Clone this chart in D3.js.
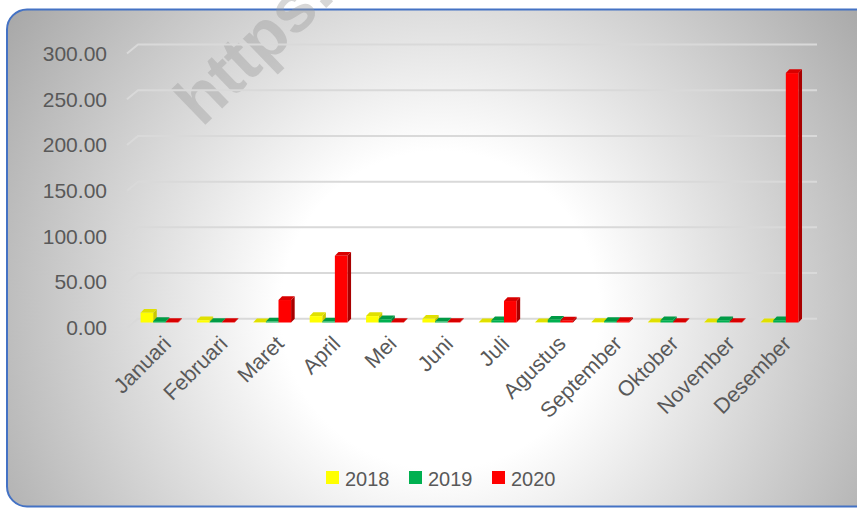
<!DOCTYPE html>
<html>
<head>
<meta charset="utf-8">
<script src="https://cdn.jsdelivr.net/npm/d3@7"></script>
<style>
  html, body { margin: 0; padding: 0; background: #ffffff; }
  svg { display: block; }
  text { font-family: "Liberation Sans", Arial, sans-serif; }
</style>
</head>
<body>
<svg id="chart" width="857" height="509"></svg>
<script>
// ---- data ----
const months = ["Januari", "Februari", "Maret", "April", "Mei", "Juni", "Juli",
                "Agustus", "September", "Oktober", "November", "Desember"];
const seriesNames = ["2018", "2019", "2020"];
const values2018 = [10.7, 2.5, 0.3, 7, 7, 4, 0.3, 0.3, 0.5, 0.3, 0.3, 0.3];
const values2019 = [1.5, 0.5, 1, 1, 3.5, 1, 2.5, 3, 1.5, 2.5, 2.5, 2.5];
const values2020 = [0.5, 0.5, 24.6, 73, 0.5, 0.5, 23.5, 2, 1.5, 0.5, 0.5, 273];
const yTicks = [0, 50, 100, 150, 200, 250, 300];
const colorsFront = ["#FFFF00", "#00B050", "#FF0000"];
const colorsTop = ["#E0E000", "#009A45", "#D80000"];
const colorsSide = ["#C8C800", "#007F38", "#A80000"];

const seriesValues = [values2018, values2019, values2020];

const svg = d3.select("#chart");
const defs = svg.append("defs");

// background radial gradient
const grad = defs.append("radialGradient")
  .attr("id", "bg").attr("gradientUnits", "userSpaceOnUse")
  .attr("cx", 440).attr("cy", 310).attr("r", 530);
grad.append("stop").attr("offset", 0).attr("stop-color", "#ffffff");
grad.append("stop").attr("offset", 0.3).attr("stop-color", "#ffffff");
grad.append("stop").attr("offset", 1).attr("stop-color", "#a6a6a6");

svg.append("rect")
  .attr("x", 7).attr("y", 9.5).attr("width", 870).attr("height", 497)
  .attr("rx", 20).attr("ry", 20)
  .attr("fill", "url(#bg)")
  .attr("stroke", "#4472C4").attr("stroke-width", 2);

// watermark
svg.append("text")
  .attr("transform", "translate(202,128) rotate(-44)")
  .attr("font-size", 68).attr("font-weight", "bold")
  .attr("fill", "#9a9a9a").attr("fill-opacity", 0.4)
  .text("https:");

// ---- scales ----
const x = d3.scaleBand().domain(months).range([131, 808])
  .paddingInner(0.33).paddingOuter(0.17);
const x1 = d3.scaleBand().domain(seriesNames).range([0, x.bandwidth()]);
const y = d3.scaleLinear().domain([0, 300]).range([322.5, 48.4]);

const dx = 3.6, dy = -3.8;
const wallLeft = 127, wallBack = 138, wallRight = 817;

// gridlines (back wall + left wall slant)
const grid = svg.append("g");
yTicks.forEach(t => {
  const yb = y(t) + dy;
  grid.append("path")
    .attr("d", `M${wallLeft},${yb + 9}L${wallBack},${yb}L${wallRight},${yb}`)
    .attr("fill", "none").attr("stroke", "#d9d9d9").attr("stroke-width", 2);
});

// y axis labels
svg.append("g").selectAll("text").data(yTicks).join("text")
  .attr("x", 107).attr("y", d => y(d) + 5)
  .attr("text-anchor", "end").attr("dominant-baseline", "central")
  .attr("font-size", 21).attr("fill", "#595959")
  .text(d => d3.format(".2f")(d));

// bars
const bars = svg.append("g");
months.forEach((m, i) => {
  seriesNames.forEach((s, k) => {
    const v = seriesValues[k][i];
    const bx = x(m) + x1(s);
    const w = x1.bandwidth();
    const yt = y(v), y0 = y(0);
    bars.append("path")
      .attr("d", `M${bx + w},${yt}L${bx + w + dx},${yt + dy}L${bx + w + dx},${y0 + dy}L${bx + w},${y0}Z`)
      .attr("fill", colorsSide[k]);
    bars.append("path")
      .attr("d", `M${bx},${yt}L${bx + dx},${yt + dy}L${bx + w + dx},${yt + dy}L${bx + w},${yt}Z`)
      .attr("fill", colorsTop[k]);
    bars.append("rect")
      .attr("x", bx).attr("y", yt).attr("width", w).attr("height", Math.max(0, y0 - yt))
      .attr("fill", colorsFront[k]);
  });
});

// x axis labels
svg.append("g").selectAll("text").data(months).join("text")
  .attr("transform", d => `translate(${x(d) + x.bandwidth() / 2 + 13},${345}) rotate(-45)`)
  .attr("text-anchor", "end")
  .attr("font-size", 21.5).attr("fill", "#595959")
  .text(d => d);

// legend
const legendX = [326, 409, 492];
const lg = svg.append("g");
seriesNames.forEach((s, k) => {
  lg.append("rect").attr("x", legendX[k]).attr("y", 471).attr("width", 13).attr("height", 13)
    .attr("fill", colorsFront[k]);
  lg.append("text").attr("x", legendX[k] + 19).attr("y", 485.5)
    .attr("font-size", 20).attr("fill", "#595959").text(s);
});
</script>
</body>
</html>
